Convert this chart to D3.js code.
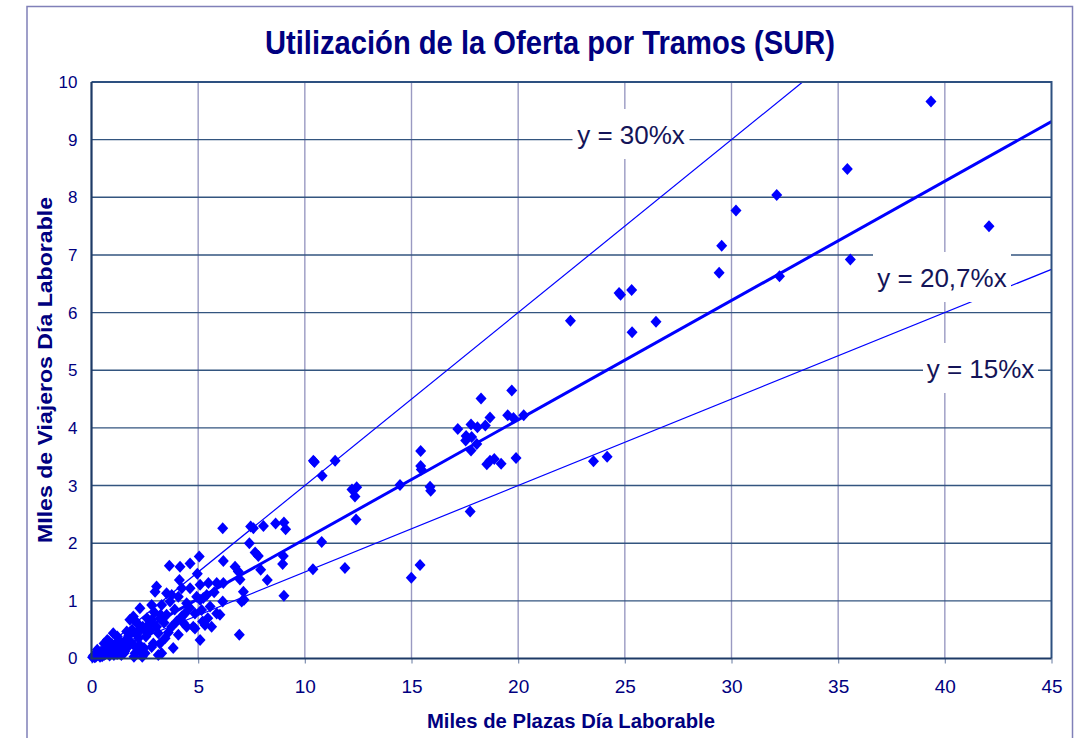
<!DOCTYPE html>
<html><head><meta charset="utf-8">
<script src="https://cdn.jsdelivr.net/npm/d3@7"></script>
<style>body{margin:0;background:#fff}svg{display:block}</style>
</head><body>
<svg id="c" width="1081" height="738"></svg>
<script>
// ---- data ----
const title = "Utilización de la Oferta por Tramos (SUR)";
const xTitle = "Miles de Plazas Día Laborable";
const yTitle = "MIles de Viajeros Día Laborable";
const xTicks = [0,5,10,15,20,25,30,35,40,45];
const yTicks = [0,1,2,3,4,5,6,7,8,9,10];
const plazas = [
39.35,35.43,32.12,30.21,29.54,29.42,42.07,35.57,32.25,22.45,24.73,24.80,25.32,25.34,26.46,23.53,24.17,
19.70,18.26,18.68,19.51,19.78,20.26,17.17,17.79,18.09,18.46,17.56,17.82,17.54,18.06,17.79,18.53,18.68,18.88,19.20,19.90,
15.43,15.43,15.46,14.46,15.87,15.90,17.75,10.45,10.40,11.42,10.81,12.21,12.43,12.35,12.40,10.79,10.38,11.88,14.99,15.40,
9.02,9.10,8.99,8.96,9.02,
6.15,7.46,7.59,8.06,8.63,7.40,7.67,7.82,6.18,6.73,6.88,6.96,7.93,8.24,6.18,7.12,7.15,7.04,6.15,6.93,6.02,
3.65,4.15,4.62,5.05,4.96,4.12,3.05,2.98,3.52,4.23,4.62,5.09,5.48,5.87,5.40,4.93,2.82,2.27,3.29,3.68,4.07,4.46,5.09,5.16,5.56,5.87,
4.38,4.85,3.99,3.52,3.21,2.82,1.96,1.80,2.35,3.05,4.46,4.85,5.32,5.09,3.83,3.21,3.13,2.82,2.51,2.12,1.65,1.57,1.42,2.04,2.27,
5.21,5.63,3.76,4.07,4.77,3.13,3.29,2.90,1.02,1.34,3.76,5.24,4.23,
3.24,2.15,1.21,0.74,0.59,1.60,1.99,2.62,2.46,1.37,
0.27,0.05,0.20,0.59,1.05,1.52,1.99,2.38,
0.10,0.35,0.45,0.50,0.70,0.80,0.90,1.10,1.15,1.25,1.45,1.70,1.75,1.90,2.05,2.20,0.80,0.95,2.40,2.60,2.70,
0.15,0.30,0.40,0.60,0.65,0.85,1.00,1.20,1.30,1.40,1.55,1.65,1.85,2.10,2.25,2.55,2.75,3.40,3.60,3.90,4.30,4.60,5.45,5.75,2.95,3.45
];
const viajeros = [
9.66,8.49,8.04,7.77,7.16,6.69,7.50,6.92,6.63,5.86,6.34,6.31,6.39,5.66,5.84,3.42,3.50,
4.65,4.51,4.18,4.22,4.17,4.22,3.98,4.06,4.01,4.04,3.86,3.84,3.78,3.72,3.61,3.37,3.43,3.46,3.38,3.48,
3.60,3.34,3.28,3.01,2.98,2.91,2.55,3.41,3.43,3.43,3.17,2.93,2.97,2.81,2.41,2.02,1.55,1.57,1.40,1.62,
2.36,2.24,1.78,1.64,1.09,
2.26,2.29,2.26,2.30,2.34,2.00,1.84,1.78,1.69,1.59,1.51,1.37,1.54,1.36,1.31,1.16,1.02,0.99,0.99,0.41,0.76,
1.61,1.59,1.65,1.77,1.47,1.36,1.25,1.16,1.13,1.22,1.22,1.28,1.31,1.31,1.10,1.07,0.93,0.87,0.93,0.99,1.07,0.96,1.02,0.84,0.90,0.78,
0.78,0.78,0.64,0.76,0.70,0.67,0.73,0.67,0.52,0.55,0.55,0.52,0.58,0.32,0.18,0.26,0.06,0.20,0.09,0.41,0.47,0.29,0.15,0.09,0.23,
0.64,0.55,0.55,0.41,0.55,0.44,0.09,0.26,0.44,0.29,1.10,1.05,0.73,
0.76,0.61,0.38,0.32,0.26,0.32,0.23,0.44,0.18,0.18,
0.15,0.02,0.03,0.06,0.06,0.09,0.03,0.03,
0.05,0.08,0.12,0.04,0.10,0.18,0.12,0.20,0.10,0.30,0.25,0.20,0.40,0.50,0.65,0.35,0.30,0.25,0.55,0.70,0.60,
0.02,0.06,0.03,0.14,0.08,0.05,0.15,0.08,0.22,0.06,0.12,0.33,0.28,0.45,0.15,0.38,0.48,0.62,0.45,0.85,0.62,0.88,0.70,1.15,0.80,0.35
];
const trendSlopes = [0.30, 0.207, 0.15];
const trendLabels = ["y = 30%x", "y = 20,7%x", "y = 15%x"];

// ---- layout ----
const svg = d3.select("#c");
const L = 91.5, R = 1051.5, T = 82, B = 658.5;
const x = d3.scaleLinear().domain([0,45]).range([L,R]);
const y = d3.scaleLinear().domain([0,10]).range([B,T]);
const navy = "#000080";
const narrow = "Liberation Sans Narrow, Arial Narrow, Liberation Sans, Arial, sans-serif";
const sans = "Liberation Sans, Arial, sans-serif";

// outer frame
svg.append("rect").attr("x",27).attr("y",6.5).attr("width",1045.5).attr("height",760)
  .attr("fill","none").attr("stroke","#8080b8").attr("stroke-width",1.5);

// title
svg.append("text").attr("x",550).attr("y",54).attr("text-anchor","middle")
  .attr("font-family",narrow).attr("font-weight","bold")
  .attr("font-size",33).attr("fill",navy).attr("textLength",570).attr("lengthAdjust","spacingAndGlyphs")
  .text(title);

// gridlines
svg.append("g").selectAll("line").data(xTicks.filter(d=>d>0&&d<45)).join("line")
  .attr("x1",d=>x(d)).attr("x2",d=>x(d)).attr("y1",T).attr("y2",B)
  .attr("stroke","#9a9ac2").attr("stroke-width",1.4);
svg.append("g").selectAll("line").data(yTicks.filter(d=>d>0&&d<10)).join("line")
  .attr("x1",L).attr("x2",R).attr("y1",d=>y(d)).attr("y2",d=>y(d))
  .attr("stroke","#33557f").attr("stroke-width",1.4);

// x axis ticks + labels
const xAxis = d3.axisBottom(x).tickValues(xTicks).tickSize(5).tickPadding(16).tickFormat(d3.format("d"));
const gx = svg.append("g").attr("transform",`translate(0,${B})`).call(xAxis);
gx.select(".domain").remove();
gx.selectAll(".tick line").attr("stroke","#7f8fb0").attr("stroke-width",1.2);
gx.selectAll(".tick text").attr("font-family",narrow).attr("font-size",19).attr("fill",navy);

const yAxis = d3.axisLeft(y).tickValues(yTicks).tickSize(0).tickPadding(14).tickFormat(d3.format("d"));
const gy = svg.append("g").attr("transform",`translate(${L},0)`).call(yAxis);
gy.select(".domain").remove();
gy.selectAll(".tick text").attr("font-family",sans).attr("font-size",17).attr("fill",navy);

// trend lines
const clipId = "pc";
svg.append("clipPath").attr("id",clipId).append("rect").attr("x",L).attr("y",T).attr("width",R-L).attr("height",B-T);
const lineG = svg.append("g").attr("clip-path",`url(#${clipId})`);
trendSlopes.forEach((s,i)=>{
  const xe = Math.min(45, 10/s);
  lineG.append("line").attr("x1",x(0)).attr("y1",y(0)).attr("x2",x(xe)).attr("y2",y(s*xe))
    .attr("stroke","#0000ff").attr("stroke-width", i===1 ? 3 : 1.2);
});

// trend labels with white boxes
const labelPos = [[631,134,117],[942,277,138],[980.5,368,115]];
trendLabels.forEach((t,i)=>{
  const [cx,cy,w] = labelPos[i];
  svg.append("rect").attr("x",cx-w/2).attr("y",cy-25).attr("width",w).attr("height",50).attr("fill","#fff");
  svg.append("text").attr("x",cx).attr("y",cy+9.5).attr("text-anchor","middle")
    .attr("font-family",sans).attr("font-size",26).attr("fill","#141458").text(t);
});

// points
const pts = plazas.map((p,i)=>[p, viajeros[i]]);
svg.append("g").selectAll("path").data(pts).join("path")
  .attr("transform",d=>`translate(${x(d[0])},${y(d[1])})`)
  .attr("d","M0,-6L5.5,0L0,6L-5.5,0Z").attr("fill","#0000ff");

// plot border
svg.append("path").attr("d",`M${L},${T}H${R}V${B}`).attr("fill","none").attr("stroke","#2d5080").attr("stroke-width",2);
svg.append("path").attr("d",`M${L},${T}V${B}H${R}`).attr("fill","none").attr("stroke","#1d3a66").attr("stroke-width",2.2);

// axis titles
svg.append("text").attr("x",571).attr("y",728).attr("text-anchor","middle")
  .attr("font-family",narrow).attr("font-weight","bold").attr("font-size",21)
  .attr("fill",navy).attr("textLength",288).attr("lengthAdjust","spacingAndGlyphs").text(xTitle);
svg.append("text").attr("transform","translate(52,370) rotate(-90)").attr("text-anchor","middle")
  .attr("font-family",narrow).attr("font-weight","bold").attr("font-size",21)
  .attr("fill",navy).attr("textLength",346).attr("lengthAdjust","spacingAndGlyphs").text(yTitle);
</script>
</body></html>
